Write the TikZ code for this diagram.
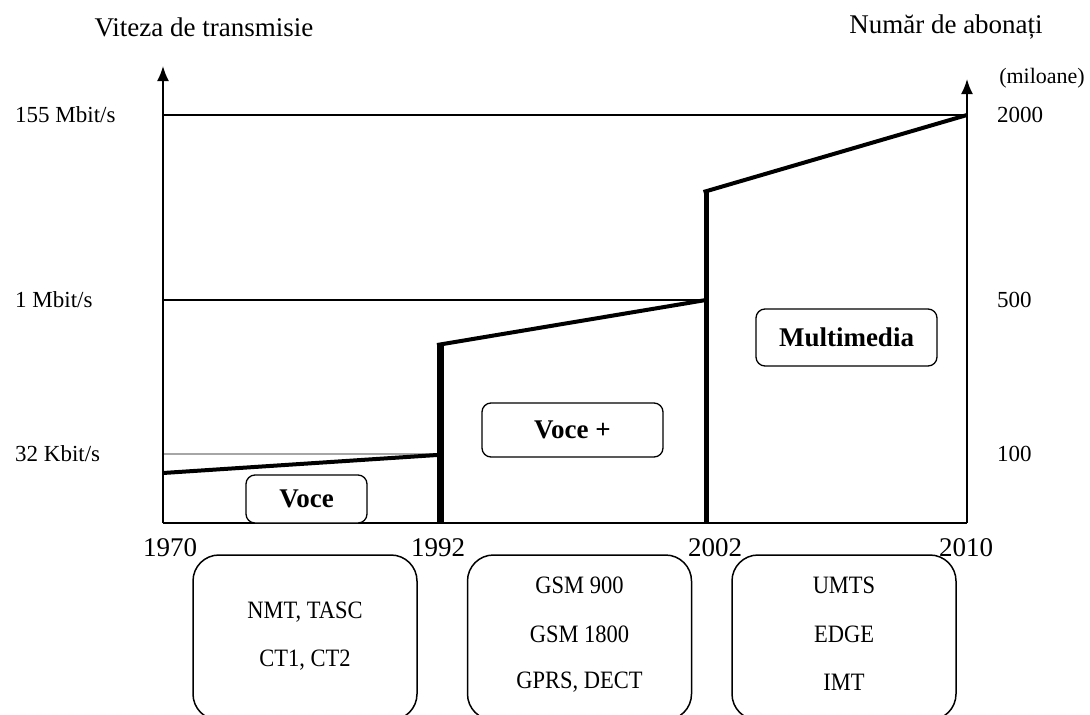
\documentclass[tikz,border=0pt]{standalone}
\usepackage{fontspec}
\setmainfont{Liberation Serif}
\newfontfamily\narrowserif[FakeStretch=0.9]{Liberation Serif}
\usetikzlibrary{arrows.meta}

\tikzset{
  thinline/.style={line width=1.5pt, black},
  thickline/.style={line width=4pt, black, line join=miter},
  axisarrow/.style={line width=1.8pt, -{Latex[length=15pt,width=12pt]}},
  heading/.style={font=\fontsize{27}{32}\selectfont, inner sep=0pt},
  ticklabel/.style={font=\fontsize{23}{28}\selectfont, inner sep=0pt},
  yearlabel/.style={font=\fontsize{27}{32}\selectfont, inner sep=0pt},
  phase/.style={draw, line width=1.3pt, rounded corners=9pt, inner sep=0pt,
                font=\bfseries\fontsize{27}{32}\selectfont},
  techbox/.style={draw, line width=1.5pt, rounded corners=26pt, inner sep=0pt,
                  minimum width=224pt, minimum height=165pt},
  techtext/.style={font=\narrowserif\fontsize{25}{30}\selectfont, inner sep=0pt}
}

\begin{document}
\begin{tikzpicture}[x=1pt, y=-1pt]
  \useasboundingbox (0,0) rectangle (1090,715);

  % frame of the chart
  \coordinate (o)   at (163,523);
  \coordinate (ltop) at (163,66);
  \coordinate (r0)  at (967,523);
  \coordinate (rtop) at (967,79);

  % grid levels
  \coordinate (g155a) at (163,115);
  \coordinate (g155b) at (967,115);
  \coordinate (g1a)   at (163,300);
  \coordinate (g1b)   at (706,300);
  \coordinate (g32a)  at (163,454);
  \coordinate (g32b)  at (437,454);

  % breakpoints of the evolution curve
  \coordinate (p0)  at (163,473);
  \coordinate (p1)  at (437,455);
  \coordinate (p1b) at (440,523);
  \coordinate (p1t) at (440,345);
  \coordinate (p2)  at (706,300);
  \coordinate (p2b) at (706,523);
  \coordinate (p2t) at (706,192);
  \coordinate (p3)  at (967,115);

  % headings
  \node[heading] (hl) at (204,27) {Viteza de transmisie};
  \node[heading] (hr) at (946,27) {Număr de abonați};
  \node[ticklabel, font=\fontsize{22}{26}\selectfont] (unit) at (1042,78) {(miloane)};

  % level lines
  \draw[thinline] (g155a) -- (g155b);
  \draw[thinline] (g1a) -- (g1b);
  \draw[line width=2.2pt, black!35] (g32a) -- (g32b);

  % axes
  \draw[axisarrow] (o) -- (ltop);
  \draw[axisarrow] (r0) -- (rtop);
  \draw[thinline] (o) -- (r0);

  % evolution curve
  \draw[thickline] (p0) -- (p1);
  \draw[line width=7pt] (p1b) -- (p1t);
  \draw[thickline] ([xshift=-3pt]p1t) -- (p2);
  \draw[line width=5pt] (p2b) -- (p2t);
  \draw[thickline] ([xshift=-2.5pt]p2t) -- (p3);

  % left scale
  \node[ticklabel, anchor=west] (v155) at (15,115) {155 Mbit/s};
  \node[ticklabel, anchor=west] (v1)   at (15,300) {1 Mbit/s};
  \node[ticklabel, anchor=west] (v32)  at (15,454) {32 Kbit/s};

  % right scale
  \node[ticklabel, anchor=west] (n2000) at (997,115) {2000};
  \node[ticklabel, anchor=west] (n500)  at (997,300) {500};
  \node[ticklabel, anchor=west] (n100)  at (997,454) {100};

  % years
  \node[yearlabel] (y1970) at (170,548) {1970};
  \node[yearlabel] (y1992) at (438,548) {1992};
  \node[yearlabel] (y2002) at (715,548) {2002};
  \node[yearlabel] (y2010) at (966,548) {2010};

  % service phases
  \node[phase, minimum width=121pt, minimum height=48pt, fill=white] (voce) at (306.5,499) {Voce};
  \node[phase, minimum width=181pt, minimum height=54pt] (voceplus) at (572.5,430) {Voce +};
  \node[phase, minimum width=181pt, minimum height=57pt] (mm) at (846.5,337.5) {Multimedia};

  % technologies of each period
  \node[techbox] (t1) at (305,637.5) {};
  \node[techtext] (t1a) at (305,612) {NMT, TASC};
  \node[techtext] (t1b) at (305,660) {CT1, CT2};

  \node[techbox] (t2) at (579.5,637.5) {};
  \node[techtext] (t2a) at (579.5,585) {GSM 900};
  \node[techtext] (t2b) at (579.5,634) {GSM 1800};
  \node[techtext] (t2c) at (579.5,682) {GPRS, DECT};

  \node[techbox] (t3) at (844,637.5) {};
  \node[techtext] (t3a) at (844,585) {UMTS};
  \node[techtext] (t3b) at (844,634) {EDGE};
  \node[techtext] (t3c) at (844,682) {IMT};
\end{tikzpicture}
\end{document}
